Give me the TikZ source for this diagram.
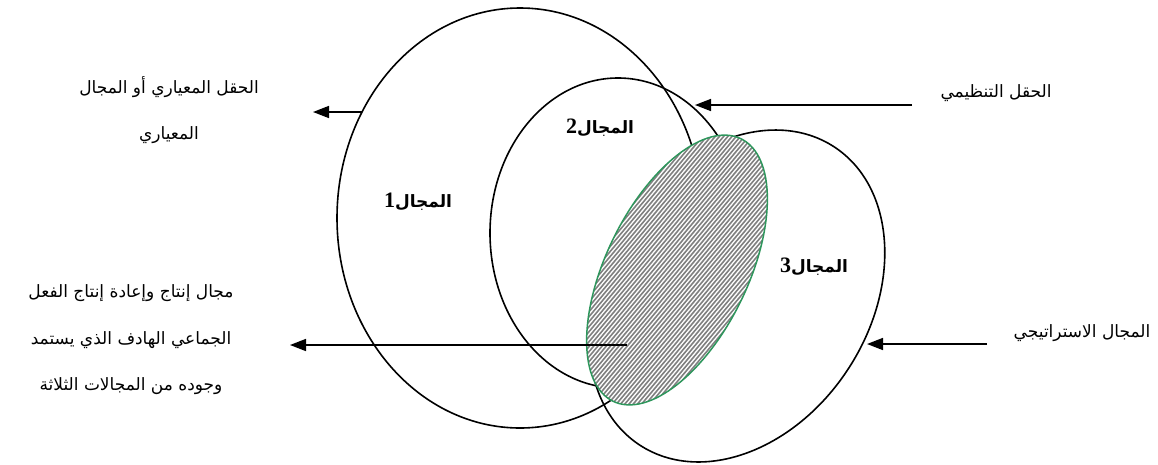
\documentclass[tikz,border=0pt]{standalone}
\usepackage{fontspec}
\setmainfont{Liberation Serif}
\newfontfamily\arabicfont[Script=Arabic]{DejaVu Sans}
\newfontfamily\digitfont{Liberation Serif}
\TeXXeTstate=1
\usetikzlibrary{arrows.meta}
\definecolor{rimgreen}{RGB}{46,150,92}

\tikzset{
  ring/.style={draw=black, line width=1.6pt},
  pointer/.style={draw=black, line width=1.6pt, -{Triangle[length=16pt,width=12pt]}},
  caption/.style={font=\arabicfont\fontsize{17}{46.5}\selectfont, align=center, inner sep=0pt},
  fieldname/.style={font=\arabicfont\bfseries\fontsize{17}{20}\selectfont, inner sep=0pt},
  shared/.style={rotate around={-26:(677,270)}},
}
\newcommand{\fieldno}[1]{{\digitfont\bfseries\fontsize{22}{20}\selectfont #1}}

\begin{document}
\begin{tikzpicture}[x=1pt, y=-1pt]
\useasboundingbox (0,0) rectangle (1158,464);

% the three fields
\draw[ring] (520,218) ellipse [x radius=183, y radius=210];
\draw[ring] (618,233) ellipse [x radius=128, y radius=155];
\draw[ring, rotate around={-33:(737,296)}] (737,296) ellipse [x radius=133, y radius=178];

% shared area of the three fields: white ground, grey stripes, green rim
\fill[shared, white] (677,270) ellipse [x radius=71, y radius=146];
\begin{scope}
  \clip[shared] (677,270) ellipse [x radius=71, y radius=146];
  \foreach \x in {330,334.2,...,780}
    \draw[black!50, line width=1.6pt] (\x,420) -- ++(252,-300);
\end{scope}
\draw[shared, draw=rimgreen, line width=1.5pt] (677,270) ellipse [x radius=71, y radius=146];

% field names
\node[fieldname] (f1) at (418,202) {\beginR المجال\fieldno{1}\endR};
\node[fieldname] (f2) at (600,128) {\beginR المجال\fieldno{2}\endR};
\node[fieldname] (f3) at (814,267) {\beginR المجال\fieldno{3}\endR};

% captions
\node[caption] (norm) at (169,110) {\beginR الحقل المعياري أو المجال\endR\\ \beginR المعياري\endR};
\node[caption] (org) at (996,93) {\beginR الحقل التنظيمي\endR};
\node[caption] (strat) at (1082,333) {\beginR المجال الاستراتيجي\endR};
\node[caption] (joint) at (131,340) {\beginR مجال إنتاج وإعادة إنتاج الفعل\endR\\ \beginR الجماعي الهادف الذي يستمد\endR\\ \beginR وجوده من المجالات الثلاثة\endR};

% arrow ends
\coordinate (normFrom) at (362,112);
\coordinate (normTo) at (313,112);
\coordinate (orgFrom) at (912,105);
\coordinate (orgTo) at (695,105);
\coordinate (stratFrom) at (987,344);
\coordinate (stratTo) at (867,344);
\coordinate (jointFrom) at (627,345);
\coordinate (jointTo) at (290,345);

\draw[pointer] (normFrom) -- (normTo);
\draw[pointer] (orgFrom) -- (orgTo);
\draw[pointer] (stratFrom) -- (stratTo);
\draw[pointer] (jointFrom) -- (jointTo);
\end{tikzpicture}
\end{document}
